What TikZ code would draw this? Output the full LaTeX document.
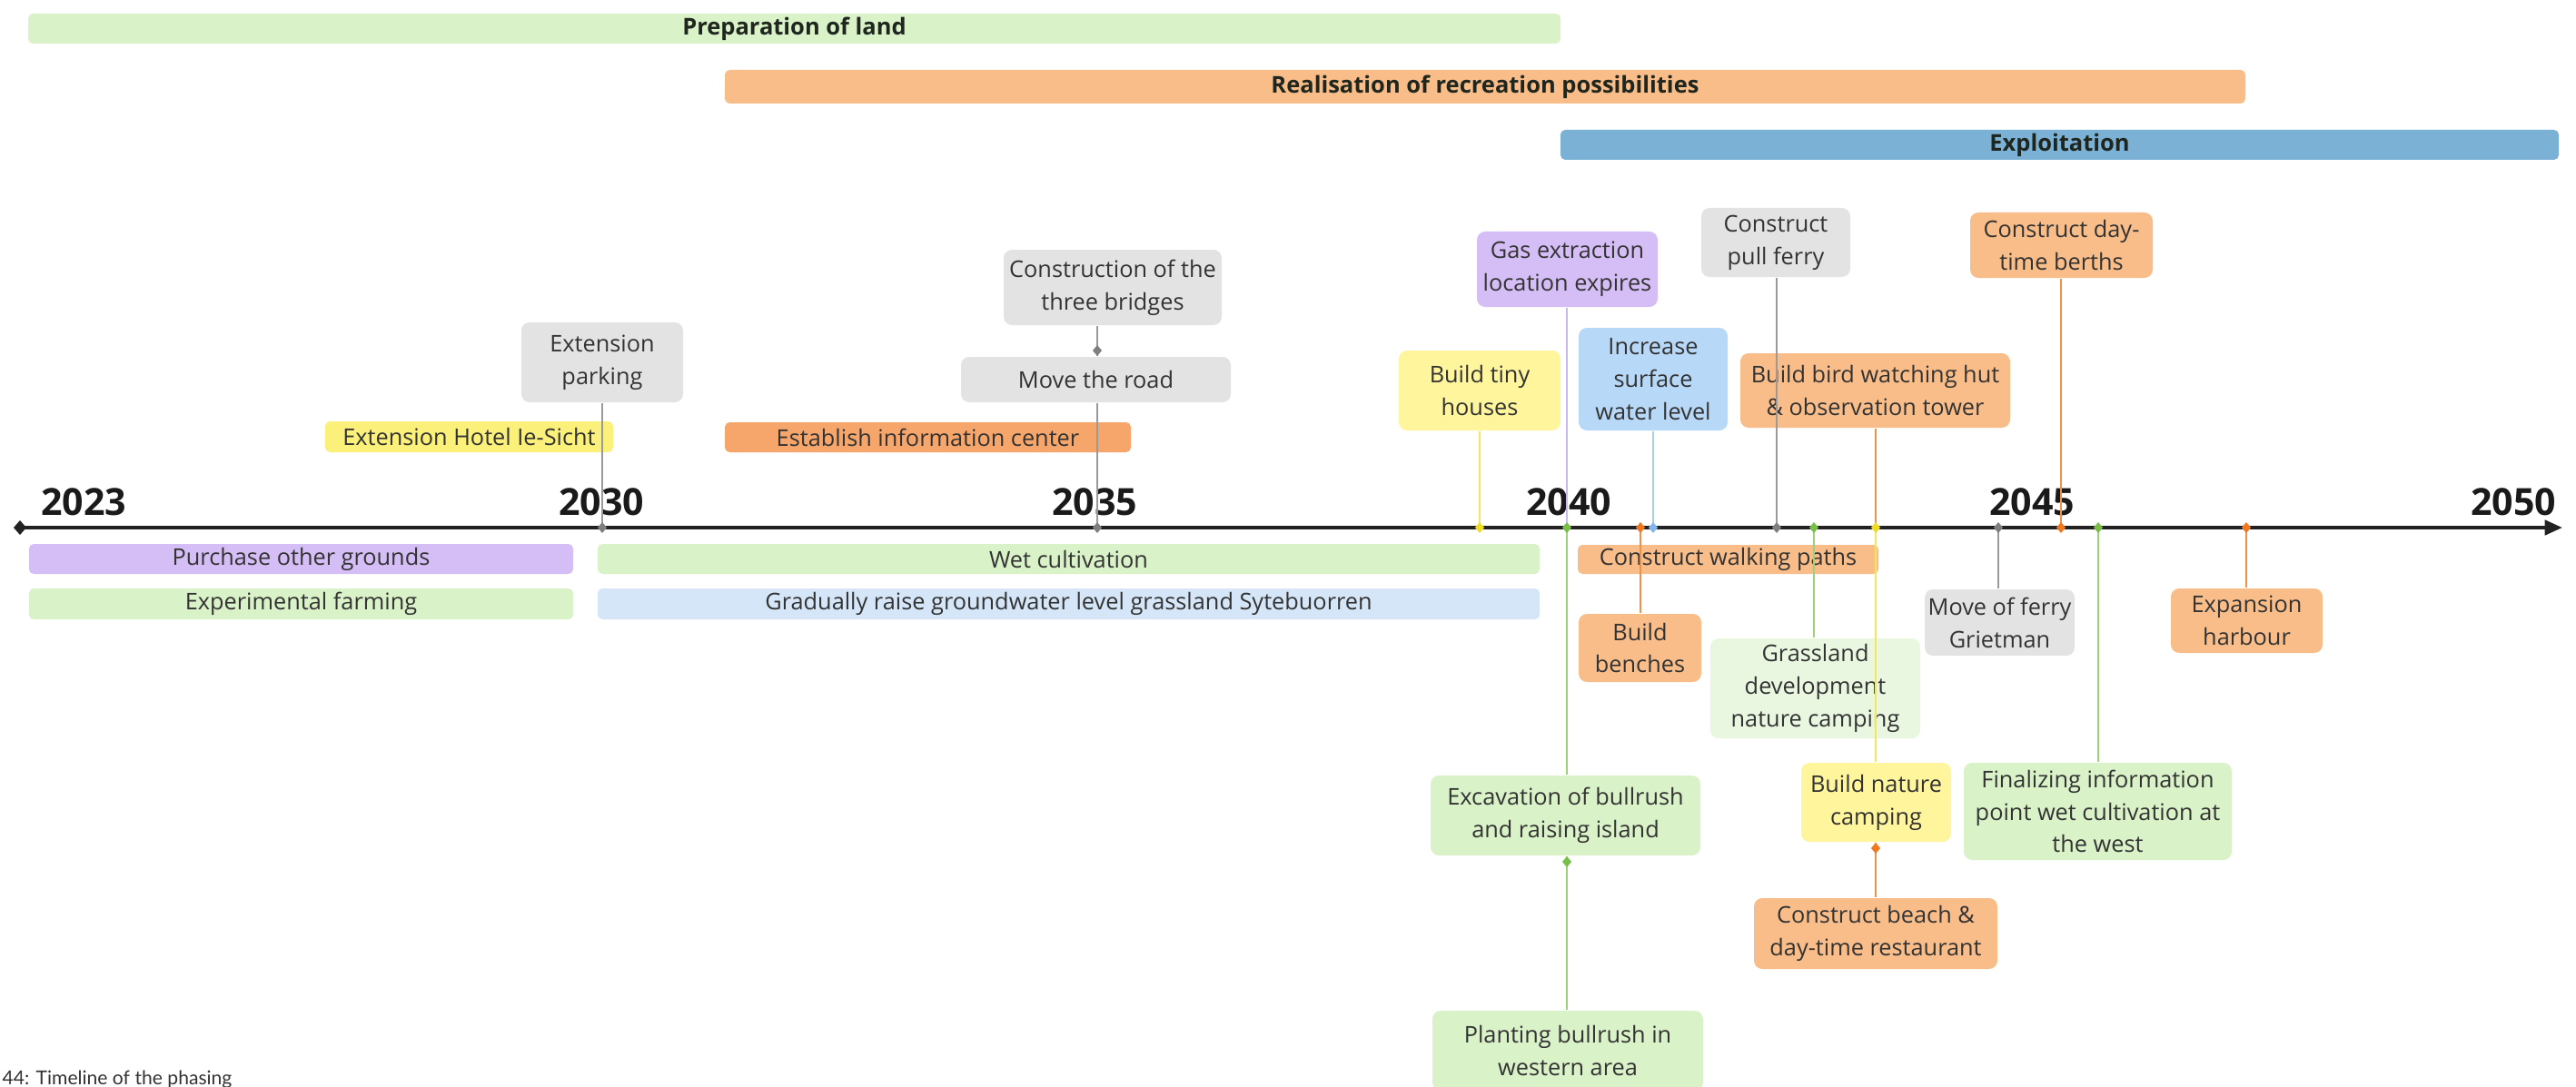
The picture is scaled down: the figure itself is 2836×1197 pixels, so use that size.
\documentclass[tikz,border=0pt]{standalone}
\usepackage{fontspec}
\setmainfont{Open Sans}
\newfontfamily\capfont{Lato}
\usetikzlibrary{arrows.meta,shapes.geometric}

\definecolor{gfill}{HTML}{D9F2C8}
\definecolor{glight}{HTML}{E9F6E0}
\definecolor{ofill}{HTML}{F9BD89}
\definecolor{odark}{HTML}{F7A66B}
\definecolor{pfill}{HTML}{D5BDF5}
\definecolor{bpale}{HTML}{D4E6F8}
\definecolor{bfill}{HTML}{B7D8F7}
\definecolor{explf}{HTML}{7CB1D6}
\definecolor{grayf}{HTML}{E3E3E3}
\definecolor{yhot}{HTML}{FBF07A}
\definecolor{ylight}{HTML}{FFF59C}
\definecolor{lgray}{HTML}{9A9A9A}
\definecolor{mgray}{HTML}{7F7F7F}
\definecolor{lyellow}{HTML}{F3E85A}
\definecolor{myellow}{HTML}{EEDD22}
\definecolor{lorange}{HTML}{F0914A}
\definecolor{morange}{HTML}{F07820}
\definecolor{lgreen}{HTML}{9CD07A}
\definecolor{mgreen}{HTML}{78BE48}
\definecolor{lblue}{HTML}{A8CCF3}
\definecolor{mblue}{HTML}{86B6EE}
\definecolor{llav}{HTML}{C9B8F0}
\definecolor{txt}{HTML}{333333}
\definecolor{hdrtxt}{HTML}{1E261E}
\definecolor{yrtxt}{HTML}{1A1A1A}
\definecolor{axisc}{HTML}{222222}
\definecolor{captxt}{HTML}{333333}

\tikzset{
  tlb/.style={draw=none, rounded corners=2.6pt, inner sep=0pt, align=center, text=txt,
              font=\fontsize{7.2}{10.2}\selectfont},
  tlbar/.style={tlb, rounded corners=1.5pt},
  hdr/.style={tlbar, font=\fontsize{7.25}{9}\selectfont\bfseries, text=hdrtxt},
  conn/.style={line width=0.45pt},
  yr/.style={font=\fontsize{11.7}{14}\selectfont\bfseries, text=yrtxt, anchor=base, inner sep=0pt},
}

% \tlbox[style]{name}{x1}{y1}{x2}{y2}{fill}{text}
\newcommand\tlbox[8][tlb]{\node[#1, fill=#7, minimum width={(#5-#3)*0.01cm},
  minimum height={(#6-#4)*0.01cm}] (#2) at ({(#3+#5)/2},{(#4+#6)/2}) {#8};}
% marker diamond
\newcommand\tlmk[2]{\fill[#2] (#1) +(0,6) -- +(5,0) -- +(0,-6) -- +(-5,0) -- cycle;}

\begin{document}
\begin{tikzpicture}[x=0.01cm, y=-0.01cm]
\fill[white] (0,0) rectangle (2836,1197);
\useasboundingbox (0,0) rectangle (2836,1197);

% ---------- phase bars ----------
\tlbox[hdr]{prep}{31}{15}{1718}{48}{gfill}{Preparation of land}
\tlbox[hdr]{real}{798}{77}{2472}{114}{ofill}{Realisation of recreation possibilities}
\tlbox[hdr]{expl}{1718}{143}{2817}{176}{explf}{Exploitation}

% ---------- axis ----------
\coordinate (axL) at (22,581);
\coordinate (axR) at (2821,581);
\draw[line width=1.15pt, axisc, -{Triangle[length=5.5pt,width=4.6pt]}] (axL) -- (axR);
\fill[axisc] (axL) +(0,8) -- +(7,0) -- +(0,-8) -- +(-7,0) -- cycle;

% year labels
\node[yr] (y2023) at (92,567) {2023};
\node[yr] (y2030) at (662,567) {2030};
\node[yr] (y2035) at (1205,567) {2035};
\node[yr] (y2040) at (1727,567) {2040};
\node[yr] (y2045) at (2237,567) {2045};
\node[yr] (y2050) at (2767,567) {2050};

% axis coordinates
\foreach \t in {663,1208,1629,1725,1806,1820,1956,1997,2065,2200,2269,2310,2473}
  {\coordinate (ax\t) at (\t,581);}

% ---------- above axis ----------
\tlbox{parking}{574}{355}{752}{443}{grayf}{Extension\\parking}
\tlbox[tlbar]{hotel}{358}{464}{675}{498}{yhot}{Extension Hotel Ie-Sicht}
\tlbox[tlbar]{infoc}{798}{465}{1245}{498}{odark}{Establish information center}
\tlbox{bridges}{1105}{275}{1345}{358}{grayf}{Construction of the\\three bridges}
\tlbox{road}{1058}{393}{1355}{443}{grayf}{Move the road}
\tlbox{tiny}{1540}{386}{1718}{474}{ylight}{Build tiny\\houses}
\tlbox{gas}{1626}{255}{1825}{338}{pfill}{Gas extraction\\location expires}
\tlbox{water}{1738}{361}{1902}{474}{bfill}{Increase\\surface\\water level}
\tlbox{ferry}{1873}{229}{2037}{305}{grayf}{Construct\\pull ferry}
\tlbox{bird}{1916}{389}{2213}{471}{ofill}{Build bird watching hut\\\& observation tower}
\tlbox{berths}{2169}{234}{2370}{306}{ofill}{Construct day-\\time berths}

% ---------- below axis ----------
\tlbox[tlbar]{purchase}{32}{599}{631}{632}{pfill}{Purchase other grounds}
\tlbox[tlbar]{expfarm}{32}{648}{631}{682}{gfill}{Experimental farming}
\tlbox[tlbar]{wet}{658}{599}{1695}{632}{gfill}{Wet cultivation}
\tlbox[tlbar]{ground}{658}{648}{1695}{682}{bpale}{Gradually raise groundwater level grassland Sytebuorren}
\tlbox[tlbar]{walk}{1737}{600}{2068}{632}{ofill}{Construct walking paths}
\tlbox{benches}{1738}{676}{1873}{751}{ofill}{Build\\benches}
\tlbox{grass}{1883}{703}{2114}{813}{glight}{Grassland\\development\\nature camping}
\tlbox{grietman}{2119}{649}{2284}{722}{grayf}{Move of ferry\\Grietman}
\tlbox{harbour}{2390}{648}{2557}{719}{ofill}{Expansion\\harbour}
\tlbox{final}{2162}{840}{2457}{947}{gfill}{Finalizing information\\point wet cultivation at\\the west}
\tlbox{camping}{1983}{840}{2148}{927}{ylight}{Build nature\\camping}
\tlbox{beach}{1931}{989}{2199}{1067}{ofill}{Construct beach \&\\day-time restaurant}
\tlbox{excav}{1575}{854}{1872}{942}{gfill}{Excavation of bullrush\\and raising island}
\tlbox{plant}{1577}{1113}{1875}{1201}{gfill}{Planting bullrush in\\western area}

% ---------- connectors ----------
\coordinate (dBridge) at (1208,386);
\coordinate (dCamp) at (2065,934);
\coordinate (dExcav) at (1725,949);

\draw[conn, lgray] (parking.south -| ax663) -- (ax663);
\draw[conn, lgray] (bridges.south -| ax1208) -- (road.north -| ax1208);
\draw[conn, lgray] (road.south -| ax1208) -- (ax1208);
\draw[conn, lyellow] (tiny.south -| ax1629) -- (ax1629);
\draw[conn, llav] (gas.south -| ax1725) -- (ax1725);
\draw[conn, lblue] (water.south -| ax1820) -- (ax1820);
\draw[conn, lgray] (ferry.south -| ax1956) -- (ax1956);
\draw[conn, lorange] (bird.south -| ax2065) -- (ax2065);
\draw[conn, lorange] (berths.south -| ax2269) -- (ax2269);

\draw[conn, lgreen] (ax1725) -- (excav.north -| ax1725);
\draw[conn, lorange] (ax1806) -- (benches.north -| ax1806);
\draw[conn, lgreen] (ax1997) -- (grass.north -| ax1997);
\draw[conn, lyellow] (ax2065) -- (camping.north -| ax2065);
\draw[conn, lgray] (ax2200) -- (grietman.north -| ax2200);
\draw[conn, lgreen] (ax2310) -- (final.north -| ax2310);
\draw[conn, lorange] (ax2473) -- (harbour.north -| ax2473);
\draw[conn, lorange] (camping.south -| dCamp) -- (beach.north -| dCamp);
\draw[conn, lgreen] (excav.south -| dExcav) -- (plant.north -| dExcav);

% ---------- markers ----------
\tlmk{ax663}{mgray}
\tlmk{ax1208}{mgray}
\tlmk{dBridge}{mgray}
\tlmk{ax1629}{myellow}
\tlmk{ax1725}{mgreen}
\tlmk{ax1806}{morange}
\tlmk{ax1820}{mblue}
\tlmk{ax1956}{mgray}
\tlmk{ax1997}{mgreen}
\tlmk{ax2065}{myellow}
\tlmk{ax2200}{mgray}
\tlmk{ax2269}{morange}
\tlmk{ax2310}{mgreen}
\tlmk{ax2473}{morange}
\tlmk{dCamp}{morange}
\tlmk{dExcav}{mgreen}

% ---------- caption ----------
\node[anchor=base west, inner sep=0pt, font=\capfont\fontsize{6}{7}\selectfont, text=captxt]
  (cap) at (2,1194) {44: Timeline of the phasing};
\end{tikzpicture}
\end{document}
